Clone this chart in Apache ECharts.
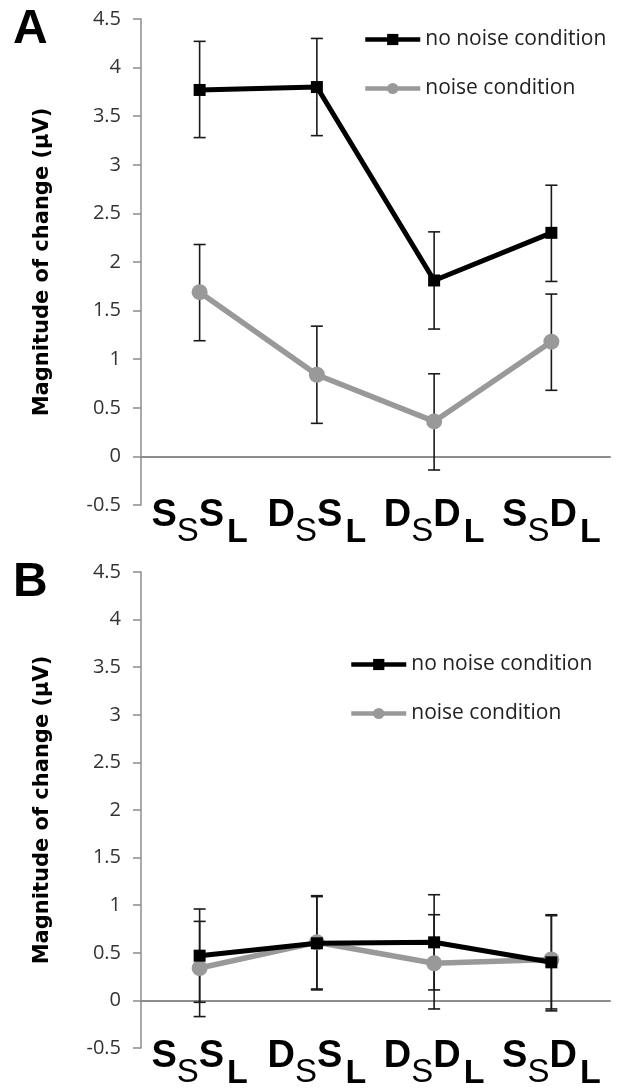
<!DOCTYPE html>
<html>
<head>
<meta charset="utf-8">
<script src="https://cdn.jsdelivr.net/npm/echarts@6/dist/echarts.min.js"></script>
<style>
  html, body { margin: 0; padding: 0; background: #fff; }
  #chart { width: 619px; height: 1091px; }
</style>
</head>
<body>
<div id="chart"></div>
<script>
// condition labels: main letter, subscript, main letter, subscript
const categories = ['SSSL', 'DSSL', 'DSDL', 'SSDL'];
const seriesNames = ['no noise condition', 'noise condition'];

// panel A
const aNoNoise = [3.77, 3.80, 1.81, 2.30];
const aNoNoiseHi = [4.27, 4.30, 2.31, 2.79];
const aNoNoiseLo = [3.28, 3.30, 1.31, 1.80];
const aNoise = [1.69, 0.84, 0.36, 1.18];
const aNoiseHi = [2.18, 1.34, 0.85, 1.67];
const aNoiseLo = [1.19, 0.34, -0.14, 0.68];

// panel B
const bNoNoise = [0.47, 0.60, 0.61, 0.40];
const bNoNoiseHi = [0.96, 1.09, 1.11, 0.89];
const bNoNoiseLo = [-0.02, 0.11, 0.11, -0.09];
const bNoise = [0.34, 0.61, 0.39, 0.43];
const bNoiseHi = [0.83, 1.10, 0.90, 0.90];
const bNoiseLo = [-0.17, 0.12, -0.09, -0.11];

const yMin = -0.5, yMax = 4.5, yStep = 0.5;

const chart = echarts.init(document.getElementById('chart'));
const colors = ['#000000', '#999999'];

function errBars(lo, hi) {
  return lo.map((v, i) => [i, v, hi[i]]);
}

function renderErr(params, api) {
  const x = api.value(0);
  const p1 = api.coord([x, api.value(1)]);
  const p2 = api.coord([x, api.value(2)]);
  const w = 6;
  const st = { stroke: '#1a1a1a', lineWidth: 1.6 };
  return {
    type: 'group',
    children: [
      { type: 'line', shape: { x1: p1[0], y1: p1[1], x2: p2[0], y2: p2[1] }, style: st },
      { type: 'line', shape: { x1: p1[0] - w, y1: p1[1], x2: p1[0] + w, y2: p1[1] }, style: st },
      { type: 'line', shape: { x1: p2[0] - w, y1: p2[1], x2: p2[0] + w, y2: p2[1] }, style: st }
    ]
  };
}

function xAxis(idx, margin) {
  return {
    type: 'category',
    gridIndex: idx,
    data: categories,
    axisLine: { onZero: true, lineStyle: { color: '#8c8c8c', width: 2 } },
    axisTick: { show: false },
    axisLabel: {
      interval: 0,
      margin: margin,
      formatter: v => `{m|${v[0]}}{s|${v[1]}}{m|${v[2]}}{l|${v[3]}}`,
      rich: {
        m: { fontFamily: 'Liberation Sans', fontWeight: 'bold', fontSize: 38, lineHeight: 38, color: '#000', verticalAlign: 'top' },
        s: { fontFamily: 'Liberation Sans', fontSize: 33, lineHeight: 33, color: '#000', padding: [18, 0, 0, 0], verticalAlign: 'top' },
        l: { fontFamily: 'Liberation Sans', fontWeight: 'bold', fontSize: 34, lineHeight: 34, color: '#000', padding: [19, 0, 0, 3], verticalAlign: 'top' }
      }
    }
  };
}

function yAxis(idx) {
  return {
    type: 'value',
    gridIndex: idx,
    min: yMin,
    max: yMax,
    interval: yStep,
    name: 'Magnitude of change (µV)',
    nameLocation: 'middle',
    nameGap: 88,
    nameTextStyle: { fontFamily: 'DejaVu Sans', fontWeight: 'bold', fontSize: 21, color: '#000' },
    axisLine: { show: true, lineStyle: { color: '#8c8c8c', width: 1.5 } },
    axisTick: { show: true, length: 8, lineStyle: { color: '#8c8c8c', width: 1.5 } },
    splitLine: { show: false },
    axisLabel: { margin: 20, fontFamily: 'Open Sans', fontSize: 20, color: '#333' }
  };
}

function legend(left, top) {
  return {
    data: seriesNames,
    orient: 'vertical',
    left: left,
    top: top,
    padding: 0,
    itemWidth: 55,
    itemHeight: 14,
    itemGap: 28,
    lineStyle: { width: 4.5 },
    textStyle: { fontFamily: 'Open Sans', fontSize: 21, color: '#222' }
  };
}

function lineSeries(idx, nn, n) {
  return [
    {
      name: seriesNames[0], type: 'line', xAxisIndex: idx, yAxisIndex: idx, data: nn,
      symbol: 'rect', symbolSize: 12, lineStyle: { width: 5, color: colors[0] },
      itemStyle: { color: colors[0] }, z: 4
    },
    {
      name: seriesNames[1], type: 'line', xAxisIndex: idx, yAxisIndex: idx, data: n,
      symbol: 'circle', symbolSize: 16, lineStyle: { width: 5.5, color: colors[1] },
      itemStyle: { color: colors[1] }, z: 3
    }
  ];
}

function errSeries(idx, lo, hi) {
  return {
    type: 'custom', xAxisIndex: idx, yAxisIndex: idx, z: 1,
    renderItem: renderErr, data: errBars(lo, hi), silent: true
  };
}

const option = {
  animation: false,
  color: colors,
  title: [
    { text: 'A', left: 13, top: 6, padding: 0, textStyle: { fontFamily: 'Liberation Sans', fontWeight: 'bold', fontSize: 48, color: '#000' } },
    { text: 'B', left: 13, top: 559, padding: 0, textStyle: { fontFamily: 'Liberation Sans', fontWeight: 'bold', fontSize: 48, color: '#000' } }
  ],
  legend: [legend(363, 29), legend(349, 654)],
  grid: [
    { left: 141, top: 19, width: 469, height: 486 },
    { left: 141, top: 572, width: 469, height: 483 }
  ],
  xAxis: [xAxis(0, -8), xAxis(1, -10)],
  yAxis: [yAxis(0), yAxis(1)],
  series: [
    errSeries(0, aNoNoiseLo, aNoNoiseHi),
    errSeries(0, aNoiseLo, aNoiseHi),
    ...lineSeries(0, aNoNoise, aNoise),
    errSeries(1, bNoNoiseLo, bNoNoiseHi),
    errSeries(1, bNoiseLo, bNoiseHi),
    ...lineSeries(1, bNoNoise, bNoise)
  ]
};

chart.setOption(option);
</script>
</body>
</html>
